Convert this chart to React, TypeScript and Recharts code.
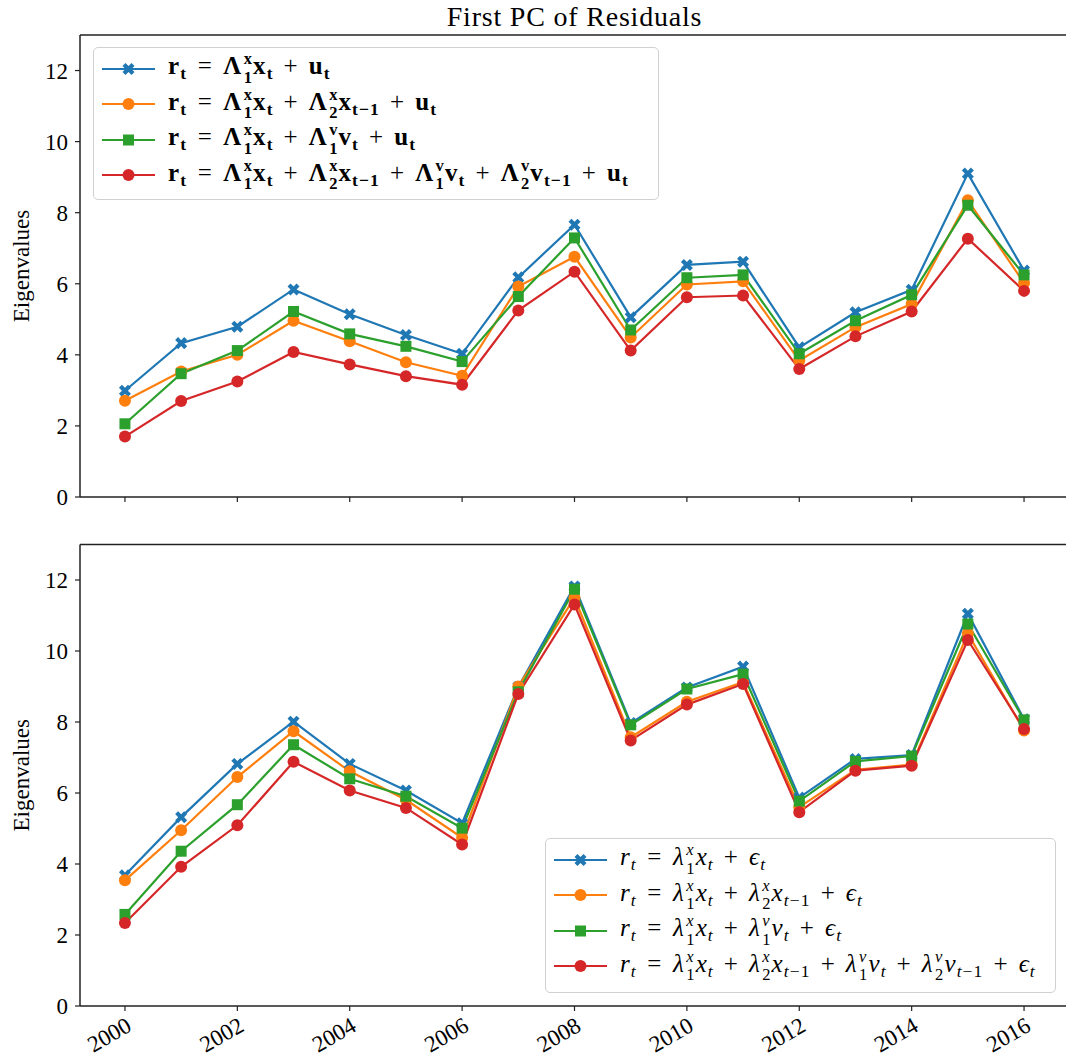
import React from 'react';
import { LineChart, Line, XAxis, YAxis, Legend, ReferenceLine } from 'recharts';

const FONT = '"Liberation Serif", "DejaVu Serif", serif';

const years = [2000, 2001, 2002, 2003, 2004, 2005, 2006, 2007, 2008, 2009, 2010, 2011, 2012, 2013, 2014, 2015, 2016];
const xTicks = [2000, 2002, 2004, 2006, 2008, 2010, 2012, 2014, 2016];
const yTicks = [0, 2, 4, 6, 8, 10, 12];

// Top panel (bold labels)
const topX = [2.99, 4.33, 4.79, 5.84, 5.14, 4.56, 4.03, 6.18, 7.66, 5.06, 6.53, 6.62, 4.21, 5.2, 5.83, 9.1, 6.37];
const topXLag = [2.71, 3.53, 4.0, 4.96, 4.38, 3.79, 3.41, 5.92, 6.76, 4.49, 5.98, 6.07, 3.84, 4.78, 5.43, 8.35, 6.02];
const topXV = [2.06, 3.47, 4.12, 5.22, 4.59, 4.24, 3.81, 5.64, 7.29, 4.7, 6.17, 6.25, 4.03, 4.96, 5.69, 8.21, 6.25];
const topAll = [1.7, 2.7, 3.25, 4.08, 3.73, 3.4, 3.16, 5.25, 6.34, 4.12, 5.62, 5.67, 3.6, 4.52, 5.22, 7.27, 5.8];

// Bottom panel (italic labels)
const botX = [3.68, 5.32, 6.82, 8.01, 6.82, 6.07, 5.15, 8.99, 11.82, 7.97, 8.97, 9.56, 5.87, 6.96, 7.07, 11.05, 8.08];
const botXLag = [3.54, 4.95, 6.45, 7.74, 6.61, 5.81, 4.74, 9.0, 11.5, 7.57, 8.57, 9.12, 5.6, 6.65, 6.8, 10.49, 7.76];
const botXV = [2.58, 4.36, 5.67, 7.36, 6.4, 5.91, 5.01, 8.85, 11.74, 7.92, 8.93, 9.35, 5.77, 6.89, 7.04, 10.76, 8.06];
const botAll = [2.34, 3.92, 5.09, 6.88, 6.07, 5.58, 4.55, 8.79, 11.31, 7.48, 8.49, 9.07, 5.46, 6.63, 6.77, 10.31, 7.8];

const colors = ['#1f77b4', '#ff7f0e', '#2ca02c', '#d62728'];
const shapes = ['x', 'circle', 'square', 'circle'];
const seriesKeys = ['s1', 's2', 's3', 's4'];

type Tok = string | { b: string; sup?: string; sub?: string };

const topLabels: Tok[][] = [
  [{ b: 'r', sub: 't' }, '=', { b: 'Λ', sup: 'x', sub: '1' }, { b: 'x', sub: 't' }, '+', { b: 'u', sub: 't' }],
  [{ b: 'r', sub: 't' }, '=', { b: 'Λ', sup: 'x', sub: '1' }, { b: 'x', sub: 't' }, '+', { b: 'Λ', sup: 'x', sub: '2' }, { b: 'x', sub: 't−1' }, '+', { b: 'u', sub: 't' }],
  [{ b: 'r', sub: 't' }, '=', { b: 'Λ', sup: 'x', sub: '1' }, { b: 'x', sub: 't' }, '+', { b: 'Λ', sup: 'v', sub: '1' }, { b: 'v', sub: 't' }, '+', { b: 'u', sub: 't' }],
  [{ b: 'r', sub: 't' }, '=', { b: 'Λ', sup: 'x', sub: '1' }, { b: 'x', sub: 't' }, '+', { b: 'Λ', sup: 'x', sub: '2' }, { b: 'x', sub: 't−1' }, '+', { b: 'Λ', sup: 'v', sub: '1' }, { b: 'v', sub: 't' }, '+', { b: 'Λ', sup: 'v', sub: '2' }, { b: 'v', sub: 't−1' }, '+', { b: 'u', sub: 't' }],
];

const bottomLabels: Tok[][] = [
  [{ b: 'r', sub: 't' }, '=', { b: 'λ', sup: 'x', sub: '1' }, { b: 'x', sub: 't' }, '+', { b: 'ϵ', sub: 't' }],
  [{ b: 'r', sub: 't' }, '=', { b: 'λ', sup: 'x', sub: '1' }, { b: 'x', sub: 't' }, '+', { b: 'λ', sup: 'x', sub: '2' }, { b: 'x', sub: 't−1' }, '+', { b: 'ϵ', sub: 't' }],
  [{ b: 'r', sub: 't' }, '=', { b: 'λ', sup: 'x', sub: '1' }, { b: 'x', sub: 't' }, '+', { b: 'λ', sup: 'v', sub: '1' }, { b: 'v', sub: 't' }, '+', { b: 'ϵ', sub: 't' }],
  [{ b: 'r', sub: 't' }, '=', { b: 'λ', sup: 'x', sub: '1' }, { b: 'x', sub: 't' }, '+', { b: 'λ', sup: 'x', sub: '2' }, { b: 'x', sub: 't−1' }, '+', { b: 'λ', sup: 'v', sub: '1' }, { b: 'v', sub: 't' }, '+', { b: 'λ', sup: 'v', sub: '2' }, { b: 'v', sub: 't−1' }, '+', { b: 'ϵ', sub: 't' }],
];

const buildData = (a: number[], b: number[], c: number[], d: number[]) =>
  years.map((year, i) => ({ year, s1: a[i], s2: b[i], s3: c[i], s4: d[i] }));

const topData = buildData(topX, topXLag, topXV, topAll);
const bottomData = buildData(botX, botXLag, botXV, botAll);

function MarkerShape({ shape, cx, cy, color }: { shape: string; cx: number; cy: number; color: string }) {
  if (cx == null || cy == null) return null;
  if (shape === 'x') {
    const L = 6.4;
    const t = 2.1;
    const plus = [[t, L], [t, t], [L, t], [L, -t], [t, -t], [t, -L], [-t, -L], [-t, -t], [-L, -t], [-L, t], [-t, t], [-t, L]];
    const s = Math.SQRT1_2;
    const pts = plus.map(([px, py]) => `${cx + (px - py) * s},${cy + (px + py) * s}`).join(' ');
    return <polygon points={pts} fill={color} />;
  }
  if (shape === 'square') {
    return <rect x={cx - 5.5} y={cy - 5.5} width={11} height={11} fill={color} />;
  }
  return <circle cx={cx} cy={cy} r={6} fill={color} />;
}

function renderChars(text: string, italic: boolean, bold: boolean) {
  if (!italic) return <span style={{ fontWeight: bold ? 'bold' : 'normal' }}>{text}</span>;
  return (
    <>
      {text.split('').map((ch, i) => (
        <span key={i} style={{ fontStyle: /[a-zA-Zλϵ]/.test(ch) ? 'italic' : 'normal' }}>{ch}</span>
      ))}
    </>
  );
}

function MathLabel({ tokens, mode }: { tokens: Tok[]; mode: 'bold' | 'italic' }) {
  const italic = mode === 'italic';
  const bold = mode === 'bold';
  return (
    <span style={{ whiteSpace: 'nowrap', lineHeight: 1, letterSpacing: '1.1px' }}>
      {tokens.map((tok, i) => {
        if (typeof tok === 'string') {
          return (
            <span key={i} style={{ margin: tok === '=' ? '0 0.42em' : '0 0.4em' }}>
              {tok}
            </span>
          );
        }
        return (
          <span key={i}>
            {renderChars(tok.b, italic, bold)}
            {tok.sup ? (
              <span
                style={{
                  display: 'inline-flex',
                  flexDirection: 'column',
                  alignItems: 'flex-start',
                  fontSize: '0.66em',
                  lineHeight: 1,
                  rowGap: 2,
                  verticalAlign: '10px',
                  marginLeft: '0.08em',
                }}
              >
                <span>{renderChars(tok.sup, italic, bold)}</span>
                <span>{renderChars(tok.sub || '', italic, bold)}</span>
              </span>
            ) : tok.sub ? (
              <span style={{ fontSize: '0.7em', verticalAlign: '-5px', lineHeight: 1 }}>{renderChars(tok.sub, italic, bold)}</span>
            ) : null}
          </span>
        );
      })}
    </span>
  );
}

function LegendBox({ labels, mode, width, height }: { labels: Tok[][]; mode: 'bold' | 'italic'; width: number; height: number }) {
  return (
    <div
      style={{
        width,
        height,
        boxSizing: 'border-box',
        border: '1.5px solid #d0d0d0',
        borderRadius: 5,
        background: 'rgba(255,255,255,0.85)',
        paddingTop: 3,
        fontFamily: FONT,
        fontSize: 25,
        color: '#000',
      }}
    >
      {labels.map((lab, i) => (
        <div key={i} style={{ height: 35.5, display: 'flex', alignItems: 'center' }}>
          <svg width={74} height={24} style={{ flex: 'none' }}>
            <line x1={8} x2={61} y1={12} y2={12} stroke={colors[i]} strokeWidth={2} />
            <MarkerShape shape={shapes[i]} cx={34.5} cy={12} color={colors[i]} />
          </svg>
          <MathLabel tokens={lab} mode={mode} />
        </div>
      ))}
    </div>
  );
}

const EmptyTick = () => null;

const RotatedTick = (props: any) => {
  const { x, y, payload } = props;
  return (
    <g transform={`translate(${x},${y})`}>
      <text transform="rotate(-30)" textAnchor="end" dy="0.7em" fontSize={23} fontFamily={FONT} fill="#000">
        {payload.value}
      </text>
    </g>
  );
};

const yLabel = (props: any) => {
  const vb = props.viewBox || {};
  const cy = (vb.y || 0) + (vb.height || 0) / 2;
  return (
    <text
      x={21}
      y={cy}
      transform={`rotate(-90, 21, ${cy})`}
      textAnchor="middle"
      dominantBaseline="central"
      fontSize={23}
      fontFamily={FONT}
      fill="#000"
    >
      Eigenvalues
    </text>
  );
};

function Panel({
  data,
  labels,
  mode,
  height,
  marginTop,
  xAxisHeight,
  showXLabels,
  legendPos,
}: {
  data: any[];
  labels: Tok[][];
  mode: 'bold' | 'italic';
  height: number;
  marginTop: number;
  xAxisHeight: number;
  showXLabels: boolean;
  legendPos: { left: number; top: number; width: number; height: number };
}) {
  const axisStroke = { stroke: '#222', strokeWidth: 1.5 };
  return (
    <LineChart width={1080} height={height} data={data} margin={{ top: marginTop, right: 11, bottom: 0, left: 0 }}>
      <XAxis
        dataKey="year"
        type="number"
        domain={[1999.2, 2016.8]}
        ticks={xTicks}
        interval={0}
        tick={showXLabels ? RotatedTick : EmptyTick}
        tickSize={5}
        tickMargin={5}
        height={xAxisHeight}
        axisLine={axisStroke}
        tickLine={{ stroke: '#222', strokeWidth: 1.2 }}
      />
      <YAxis
        type="number"
        domain={[0, 13]}
        ticks={yTicks}
        interval={0}
        width={80}
        tickSize={5}
        tickMargin={7}
        tick={{ fontSize: 23, fill: '#000', fontFamily: FONT }}
        axisLine={axisStroke}
        tickLine={{ stroke: '#222', strokeWidth: 1.2 }}
        label={{ content: yLabel }}
      />
      <ReferenceLine y={13} stroke="#222" strokeWidth={1.5} />
      {seriesKeys.map((k, i) => (
        <Line
          key={k}
          dataKey={k}
          type="linear"
          stroke={colors[i]}
          strokeWidth={2.2}
          isAnimationActive={false}
          activeDot={false}
          dot={(p: any) => <MarkerShape key={`${k}-${p.index}`} shape={shapes[i]} cx={p.cx} cy={p.cy} color={colors[i]} />}
        />
      ))}
      <Legend
        layout="vertical"
        align="center"
        verticalAlign="middle"
        wrapperStyle={{ left: legendPos.left, top: legendPos.top, width: legendPos.width, height: legendPos.height }}
        content={() => <LegendBox labels={labels} mode={mode} width={legendPos.width} height={legendPos.height} />}
      />
    </LineChart>
  );
}

export default function App() {
  return (
    <div
      style={{
        position: 'absolute',
        left: 0,
        top: 0,
        width: 1066,
        height: 1063,
        overflow: 'hidden',
        background: '#fff',
      }}
    >
      <div
        style={{
          position: 'absolute',
          left: 0,
          top: 3,
          width: 1149,
          textAlign: 'center',
          fontFamily: FONT,
          fontSize: 28,
          lineHeight: '28px',
          letterSpacing: 0.8,
          color: '#000',
        }}
      >
        First PC of Residuals
      </div>
      <div style={{ position: 'absolute', left: 0, top: 0 }}>
        <Panel
          data={topData}
          labels={topLabels}
          mode="bold"
          height={510}
          marginTop={35}
          xAxisHeight={13}
          showXLabels={false}
          legendPos={{ left: 93, top: 47, width: 566, height: 153 }}
        />
      </div>
      <div style={{ position: 'absolute', left: 0, top: 510 }}>
        <Panel
          data={bottomData}
          labels={bottomLabels}
          mode="italic"
          height={553}
          marginTop={34.5}
          xAxisHeight={57}
          showXLabels={true}
          legendPos={{ left: 545, top: 328, width: 511, height: 155 }}
        />
      </div>
    </div>
  );
}
